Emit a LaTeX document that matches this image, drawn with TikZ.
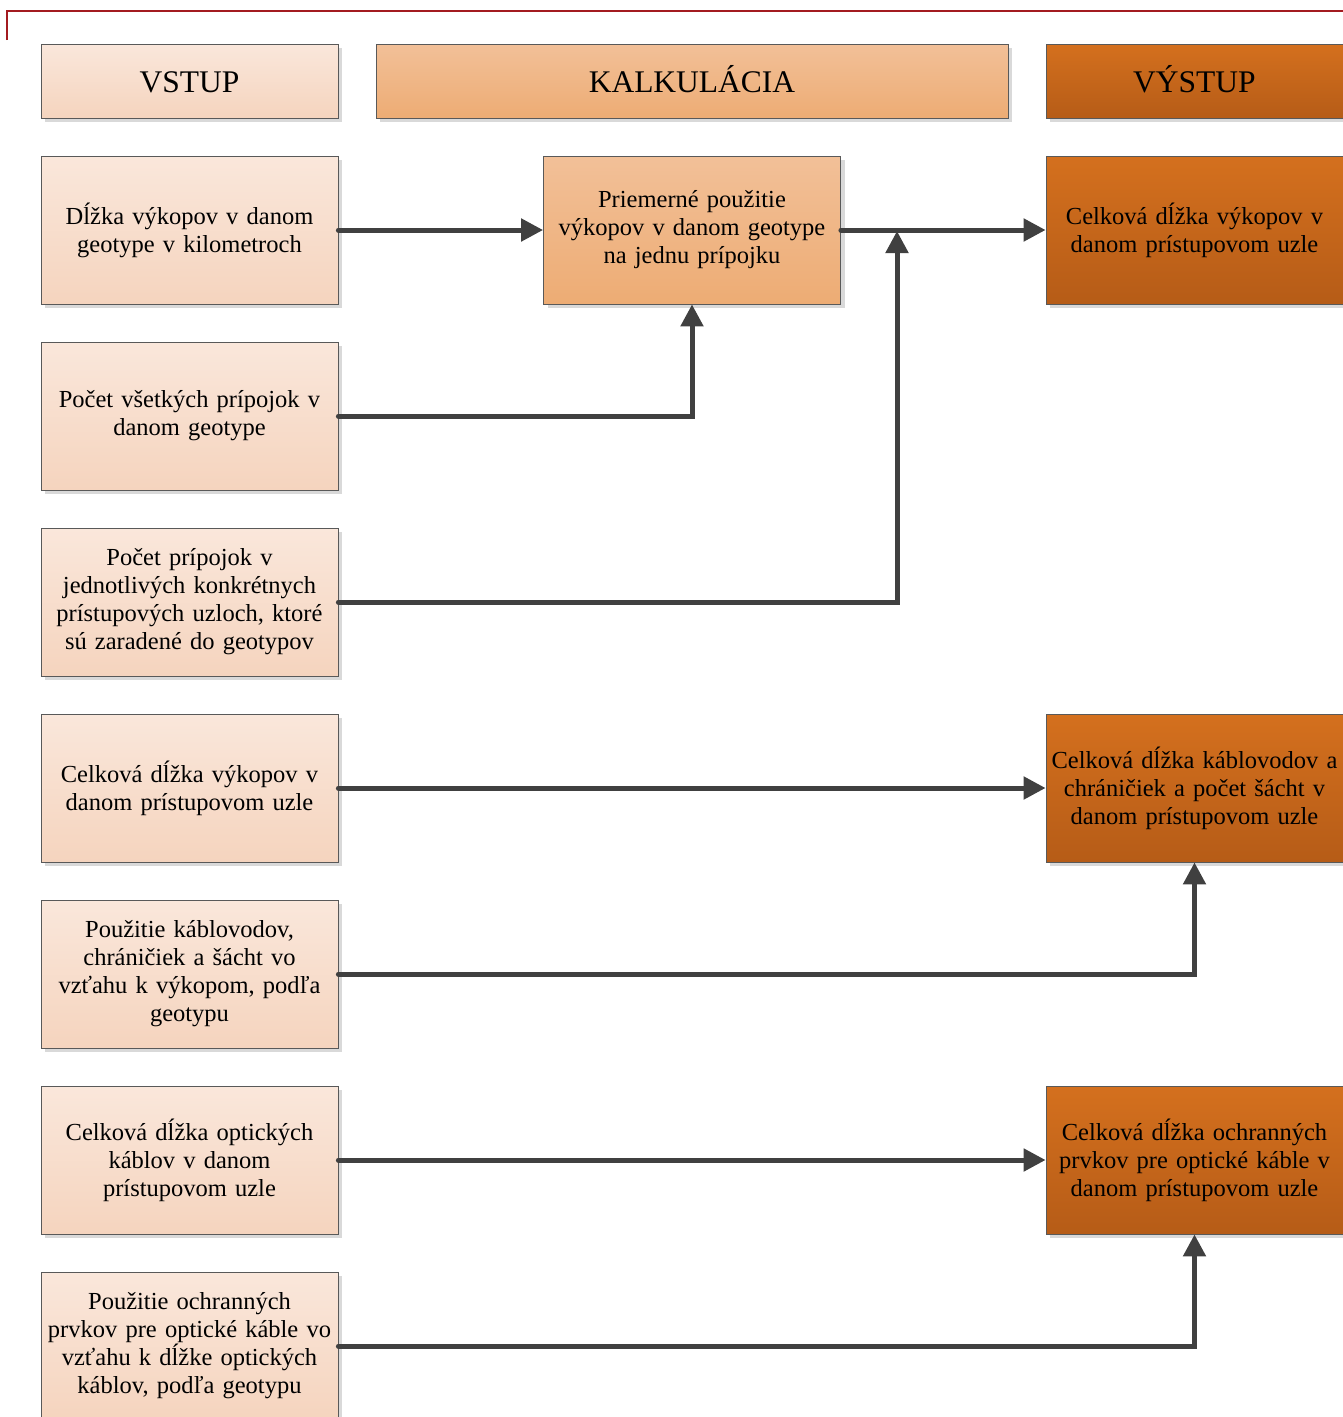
\documentclass[tikz,border=0pt]{standalone}
\usepackage{fontspec}
\setmainfont[WordSpace=0.85]{Liberation Serif}
\usetikzlibrary{arrows.meta,shadows}
\definecolor{inTop}{HTML}{FAE7DB}
\definecolor{inBot}{HTML}{F5D4BE}
\definecolor{calTop}{HTML}{F2C098}
\definecolor{calBot}{HTML}{EDAC74}
\definecolor{outTop}{HTML}{D4701E}
\definecolor{outBot}{HTML}{B65C17}
\definecolor{arr}{HTML}{404040}
\definecolor{frame}{HTML}{A31B20}
\tikzset{
  boxbase/.style={draw=black!65, line width=0.8pt, minimum width=297pt, minimum height=148pt,
    text width=294pt, align=center, inner sep=0pt,
    drop shadow={shadow xshift=4pt, shadow yshift=-4pt, fill=black!15, opacity=1},
    font=\fontsize{24.5}{28}\selectfont},
  inbox/.style={boxbase, top color=inTop, bottom color=inBot},
  calbox/.style={boxbase, top color=calTop, bottom color=calBot},
  outbox/.style={boxbase, top color=outTop, bottom color=outBot},
  headbox/.style={minimum height=74pt, text height=22pt, text depth=0pt, font=\fontsize{31.5}{34}\selectfont},
  conn/.style={draw=arr, line width=5pt, line cap=round, -{Triangle[length=22pt,width=22pt]}}
}
\begin{document}
\begin{tikzpicture}[x=1pt,y=-1pt]
\useasboundingbox (0,0) rectangle (1343,1417);
\draw[frame, line width=2pt] (7,40) -- (7,11) -- (1345,11);
% headers
\node[inbox, headbox] (hin) at (189.5,81) {VSTUP};
\node[calbox, headbox, minimum width=632pt, text width=620pt] (hcal) at (692,81) {KALKULÁCIA};
\node[outbox, headbox] (hout) at (1194.5,81) {VÝSTUP};
% inputs
\node[inbox] (i1) at (189.5,230) {Dĺžka výkopov v danom\\geotype v kilometroch};
\node[inbox] (i2) at (189.5,416) {Počet všetkých prípojok v\\danom geotype};
\node[inbox] (i3) at (189.5,602) {Počet prípojok v\\jednotlivých konkrétnych\\prístupových uzloch, ktoré\\sú zaradené do geotypov};
\node[inbox] (i4) at (189.5,788) {Celková dĺžka výkopov v\\danom prístupovom uzle};
\node[inbox] (i5) at (189.5,974) {Použitie káblovodov,\\chráničiek a šácht vo\\vzťahu k výkopom, podľa\\geotypu};
\node[inbox] (i6) at (189.5,1160) {Celková dĺžka optických\\káblov v danom\\prístupovom uzle};
\node[inbox] (i7) at (189.5,1346) {Použitie ochranných\\prvkov pre optické káble vo\\vzťahu k dĺžke optických\\káblov, podľa geotypu};
% calculation
\node[calbox] (c1) at (692,230) {Priemerné použitie\\výkopov v danom geotype\\na jednu prípojku};
% outputs
\node[outbox] (o1) at (1194.5,230) {Celková dĺžka výkopov v\\danom prístupovom uzle};
\node[outbox] (o2) at (1194.5,788) {Celková dĺžka káblovodov a\\chráničiek a počet šácht v\\danom prístupovom uzle};
\node[outbox] (o3) at (1194.5,1160) {Celková dĺžka ochranných\\prvkov pre optické káble v\\danom prístupovom uzle};
% connectors
\coordinate (j1) at (897,230);
\draw[conn] (i1.east) -- (c1.west);
\draw[conn] (i2.east) -| (c1.south);
\draw[conn] (c1.east) -- (o1.west);
\draw[conn] (i3.east) -| ([yshift=-1pt]j1);
\draw[conn] (i4.east) -- (o2.west);
\draw[conn] (i5.east) -| (o2.south);
\draw[conn] (i6.east) -- (o3.west);
\draw[conn] (i7.east) -| (o3.south);
\end{tikzpicture}
\end{document}
